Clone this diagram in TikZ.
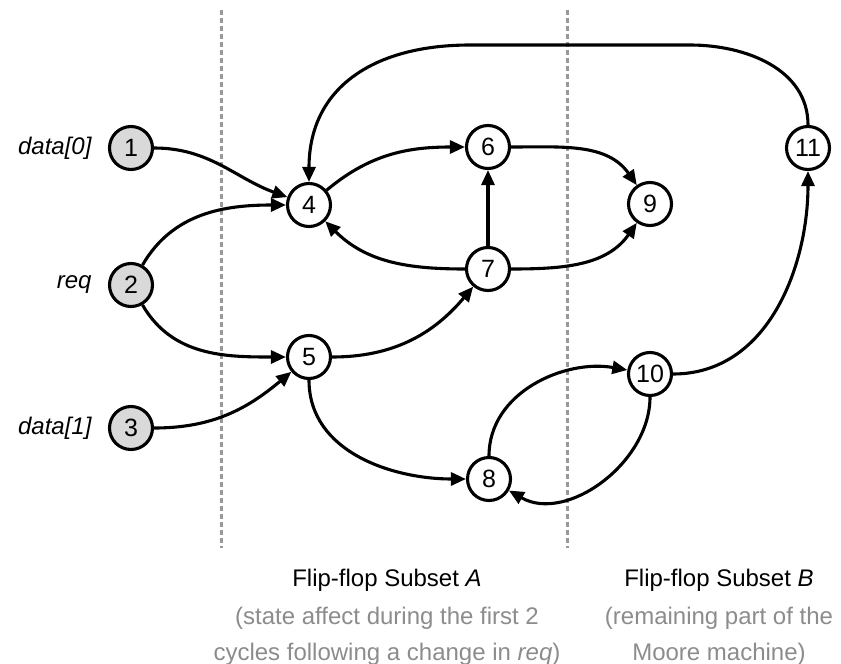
\documentclass[tikz,border=0pt]{standalone}
\usepackage{fontspec}
\setmainfont{Liberation Sans}
\usetikzlibrary{arrows.meta}
\definecolor{inputfill}{HTML}{D9D9D9}
\definecolor{notegray}{HTML}{8C8C8C}
\definecolor{splitgray}{HTML}{999999}
\begin{document}
\begin{tikzpicture}[x=1pt,y=1pt,
  ff/.style={circle, draw, line width=3.1pt, minimum size=43pt, inner sep=0pt,
    fill=white, font=\fontsize{25}{25}\selectfont},
  inff/.style={ff, fill=inputfill},
  sig/.style={anchor=east, font=\fontsize{24}{24}\selectfont\itshape},
  arr/.style={-{Triangle[length=15pt,width=13pt]}, line width=3.1pt},
  split/.style={splitgray, line width=3pt, dash pattern=on 5pt off 3pt},
  title/.style={font=\fontsize{24}{28}\selectfont},
  note/.style={notegray, align=center, font=\fontsize{24}{36}\selectfont}]
\useasboundingbox (0,0) rectangle (841,-664);

% partition lines between the two flip-flop subsets
\coordinate (s1t) at (221,-10);  \coordinate (s1b) at (221,-548);
\coordinate (s2t) at (567,-10);  \coordinate (s2b) at (567,-548);
\draw[split] (s1t) -- (s1b);
\draw[split] (s2t) -- (s2b);

% input flip-flops
\node[inff] (n1) at (131,-148) {1};
\node[inff] (n2) at (131,-285) {2};
\node[inff] (n3) at (131,-428) {3};
\node[sig] (l1) at (95,-148) {data[0]};
\node[sig] (l2) at (95,-285) {req};
\node[sig] (l3) at (95,-428) {data[1]};

% state flip-flops
\node[ff] (n4) at (309,-205) {4};
\node[ff] (n5) at (309,-357) {5};
\node[ff] (n6) at (488,-147) {6};
\node[ff] (n7) at (488,-269) {7};
\node[ff] (n8) at (489,-479) {8};
\node[ff] (n9) at (650,-204) {9};
\node[ff] (n10) at (650,-374) {10};
\node[ff] (n11) at (808,-148) {11};

% dependencies
\draw[arr] (n1) to[out=0,in=160] (n4);
\draw[arr] (n2) to[out=60,in=180] (n4);
\draw[arr] (n2) to[out=-60,in=180] (n5);
\draw[arr] (n3) to[out=0,in=220] (n5);
\draw[arr] (n4) to[out=40,in=180] (n6);
\draw[arr] (n7) to[out=180,in=-45] (n4);
\draw[arr] (n7) -- (n6);
\draw[arr] (n6) to[out=0,in=125] (n9);
\draw[arr] (n7) to[out=0,in=235] (n9);
\draw[arr] (n5) to[out=0,in=230] (n7);
\draw[arr] (n5) to[out=-90,in=180] (n8);
\draw[arr] (n8) to[out=90,in=170] (n10);
\draw[arr] (n10) to[out=-90,in=-30] (n8);
\draw[arr] (n10) to[out=0,in=-90] (n11);
\coordinate (tr) at (690,-45);
\coordinate (tl) at (470,-45);
\draw[arr] (n11) to[out=90,in=0] (tr) -- (tl) to[out=180,in=90,looseness=1.15] (n4);

% subset captions
\node[title] (ta) at (387,-580) {Flip-flop Subset \textit{A}};
\node[note] (na) at (387,-636) {(state affect during the first 2\\cycles following a change in \textit{req})};
\node[title] (tb) at (719,-580) {Flip-flop Subset \textit{B}};
\node[note] (nb) at (719,-636) {(remaining part of the\\Moore machine)};
\end{tikzpicture}
\end{document}
